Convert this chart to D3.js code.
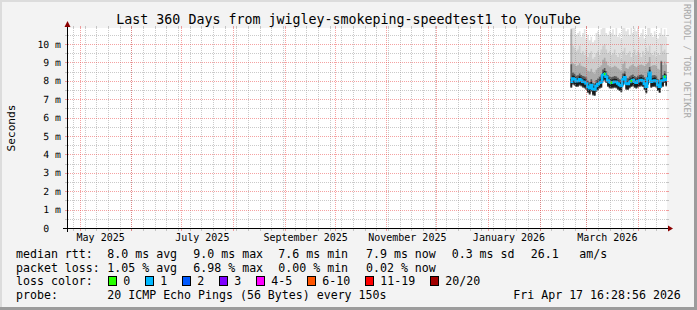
<!DOCTYPE html>
<html><head><meta charset="utf-8">
<script src="https://cdn.jsdelivr.net/npm/d3@7"></script>
<style>html,body{margin:0;padding:0;background:#f3f3f3;}svg{display:block;}text{-webkit-font-smoothing:antialiased;}</style>
</head><body>
<svg id="c" width="697" height="310"></svg>
<script>
// ---------------- data ----------------
const title = "Last 360 Days from jwigley-smokeping-speedtest1 to YouTube";
const xDomain = ["2025-04-23T09:45:00Z", "2026-04-18T09:45:00Z"];
const yMax = 10.87;
const yTicks = [0,1,2,3,4,5,6,7,8,9,10];
const yTickLabels = ["0\u00a0\u00a0","1 m","2 m","3 m","4 m","5 m","6 m","7 m","8 m","9 m","10 m"];
const xLabelMonths = ["2025-05-01","2025-07-01","2025-09-01","2025-11-01","2026-01-01","2026-03-01"];
const xLabels = ["May 2025","July 2025","September 2025","November 2025","January 2026","March 2026"];
const dates = ["02-19","02-20","02-21","02-22","02-23","02-24","02-25","02-26","02-27","02-28",
  "03-01","03-02","03-03","03-04","03-05","03-06","03-07","03-08","03-09","03-10",
  "03-11","03-12","03-13","03-14","03-15","03-16","03-17","03-18","03-19","03-20",
  "03-21","03-22","03-23","03-24","03-25","03-26","03-27","03-28","03-29","03-30",
  "03-31","04-01","04-02","04-03","04-04","04-05","04-06","04-07","04-08","04-09",
  "04-10","04-11","04-12","04-13","04-14","04-15","04-16","04-17"];
const median = [7.95,8.13,8.08,7.97,7.99,8.08,8.01,7.95,7.93,7.86,
  7.68,7.59,7.77,7.56,7.53,7.72,7.81,7.90,7.95,8.32,
  8.37,8.22,8.01,7.93,7.90,7.92,7.95,7.93,7.86,7.77,
  7.72,8.08,8.19,7.86,7.83,7.93,7.99,8.04,7.95,7.90,
  7.97,8.01,8.04,7.99,7.83,7.68,8.13,8.44,7.95,7.99,
  8.01,7.97,7.77,7.68,7.99,8.01,8.22,8.04];
const lossCount = [1,1,1,1,1,1,1,1,1,1, 1,1,1,1,1,1,1,1,1,1, 0,1,1,1,0,1,1,1,1,1,
  1,1,1,1,1,1,0,1,1,1, 1,1,1,1,1,1,1,1,1,1, 1,1,1,1,1,1,0,1];
const smokeLow = [7.62,7.80,7.75,7.66,7.68,7.74,7.70,7.64,7.60,7.52,
  7.35,7.25,7.42,7.22,7.18,7.40,7.48,7.58,7.62,7.98,
  8.02,7.88,7.68,7.60,7.58,7.60,7.62,7.60,7.52,7.44,
  7.38,7.74,7.85,7.52,7.50,7.60,7.66,7.70,7.62,7.58,
  7.64,7.68,7.70,7.66,7.50,7.32,7.78,8.08,7.62,7.66,
  7.68,7.64,7.44,7.34,7.64,7.68,7.88,7.70];
const smokeDark = [8.90,8.45,8.38,8.28,8.30,8.40,8.32,8.26,8.24,8.18,
  8.00,7.92,8.08,7.88,7.85,8.04,8.12,8.22,8.30,8.62,
  8.70,8.52,8.32,8.24,8.20,8.22,8.26,8.24,8.16,8.08,
  8.04,8.40,8.50,8.16,8.14,8.24,8.30,8.34,8.26,8.20,
  8.28,8.32,8.34,8.30,8.20,8.10,8.44,8.75,8.26,8.30,
  8.32,8.28,8.08,8.00,9.05,8.32,8.52,8.34];
const smokeMid = [10.80,8.95,8.90,8.80,8.85,8.95,8.82,8.78,8.75,8.70,
  8.55,8.50,8.65,8.45,8.40,8.60,8.70,8.75,8.85,9.15,
  9.25,9.05,8.85,8.78,8.72,8.75,8.82,8.76,8.68,8.62,
  8.55,8.92,9.05,8.70,8.66,8.78,8.84,8.90,8.80,8.74,
  8.82,8.86,8.88,8.84,8.80,8.90,9.00,9.30,8.80,8.84,
  8.86,8.82,8.66,8.60,9.10,8.86,9.05,8.88];
const smokeHigh = [10.6,9.9,9.8,9.6,9.7,9.9,9.5,9.6,9.4,9.7,
  9.3,9.5,9.6,9.2,9.3,9.5,9.6,9.4,9.7,9.9,
  10.0,9.7,9.5,9.6,9.4,9.5,9.7,9.4,9.3,9.5,
  9.2,9.6,9.8,9.4,9.5,9.6,9.3,9.5,9.7,9.4,
  9.6,9.5,9.3,9.6,9.4,9.8,9.6,9.9,9.5,9.4,
  9.6,9.3,9.5,9.4,10.0,9.6,9.7,9.5];
const smokeTop = [11.0,11.0,10.9,10.5,10.6,10.7,10.4,10.6,10.8,10.3,
  10.5,10.2,10.4,10.1,10.2,10.6,10.7,10.5,10.8,10.9,
  11.0,10.6,10.5,10.7,10.6,10.8,10.5,10.9,10.4,10.6,
  10.3,10.9,11.0,10.7,10.8,10.5,10.9,10.6,11.0,10.7,
  10.9,10.4,10.6,10.8,10.3,10.5,10.9,11.0,10.6,10.4,
  10.7,10.5,10.3,10.6,10.9,10.5,10.8,10.4];
const lossLabels = ["0","1","2","3","4-5","6-10","11-19","20/20"];
const lossColors = ["#26ff00","#00b8ff","#0059ff","#7e00ff","#ff00ff","#ff5500","#ff0000","#a10000"];
const legendRows = [
  [["median rtt:",16],["8.0 ms avg",107.3],["9.0 ms max",193.3],["7.6 ms min",278.3],["7.9 ms now",366],["0.3 ms sd",451.7],["26.1",530.7],["am/s",579.3]],
  [["packet loss:",16],["1.05 % avg",107.3],["6.98 % max",193.3],["0.00 % min",278.3],["0.02 % now",366]],
  [["loss color:",16]],
  [["probe:",16],["20 ICMP Echo Pings (56 Bytes) every 150s",107.3],["Fri Apr 17 16:28:56 2026",513.3]]
];
const lossBoxX = [108.5,145.5,182.5,219.5,256.5,307.5,365.5,430.5];

// ---------------- drawing ----------------
const W = 697, H = 310;
const X0 = 67, X1 = 667, Y0 = 228, Y1 = 28;
const FONT = "'DejaVu Sans Mono', monospace";
const svg = d3.select("#c");
const MAJOR = "rgba(235,70,70,0.5)", MINOR = "rgba(150,150,150,0.5)";

// dotted-line patterns (1 on / 1 off)
const defs = svg.append("defs");
[["hR",MAJOR,2,1],["hG",MINOR,2,1],["vR",MAJOR,1,2],["vG",MINOR,1,2]].forEach(([id,c,w,h]) => {
  const p = defs.append("pattern").attr("id",id).attr("patternUnits","userSpaceOnUse")
    .attr("x",0).attr("y",0).attr("width",w).attr("height",h);
  p.append("rect").attr("x",0).attr("y",0).attr("width",1).attr("height",1).attr("fill",c);
});

svg.append("rect").attr("width", W).attr("height", H).attr("fill", "#f3f3f3");
// 3D frame
svg.append("rect").attr("x",0).attr("y",0).attr("width",W).attr("height",2).attr("fill","#dcdcdc");
svg.append("rect").attr("x",0).attr("y",0).attr("width",2).attr("height",H).attr("fill","#dcdcdc");
svg.append("rect").attr("x",W-3).attr("y",0).attr("width",3).attr("height",H).attr("fill","#9c9c9c");
svg.append("rect").attr("x",0).attr("y",H-3).attr("width",W).attr("height",3).attr("fill","#9c9c9c");

const x = d3.scaleUtc().domain(xDomain.map(d => new Date(d))).range([X0, X1]);
const y = d3.scaleLinear().domain([0, yMax]).range([Y0, Y1]);

svg.append("rect").attr("x",X0).attr("y",Y1).attr("width",X1-X0).attr("height",Y0-Y1).attr("fill","#ffffff");

svg.append("clipPath").attr("id","plot").append("rect")
  .attr("x",X0).attr("y",Y1).attr("width",X1-X0).attr("height",Y0-Y1);

const rows = dates.map((d,i) => ({
  t: new Date("2026-" + d + "T12:00:00Z"),
  med: median[i], loss: lossCount[i], lo: smokeLow[i],
  dk: smokeDark[i], md: smokeMid[i], hi: smokeHigh[i], top: smokeTop[i]
}));
const last = rows[rows.length-1];
const ext = rows.concat([Object.assign({}, last, {t: x.domain()[1]})]);

const gData = svg.append("g").attr("clip-path","url(#plot)");
const bands = [["top","#e2e2e2"],["hi","#cdcdcd"],["md","#ababab"],["dk","#5a5a5a"]];
bands.forEach(([k,c]) => {
  const area = d3.area().curve(d3.curveStepAfter)
    .x(d => x(d.t)).y0(d => y(d.lo)).y1(d => y(d[k]));
  gData.append("path").attr("d", area(ext)).attr("fill", c);
});
const core = d3.area().curve(d3.curveStepAfter)
  .x(d => x(d.t)).y0(d => y(d.lo) - 1).y1(d => y(d.med) - 3);
gData.append("path").attr("d", core(ext)).attr("fill", "#1a1a1a");
const medLine = d3.line().curve(d3.curveStepAfter).x(d => x(d.t)).y(d => y(d.med));
gData.append("path").attr("d", medLine(ext)).attr("fill","none")
  .attr("stroke", lossColors[1]).attr("stroke-width", 2.5);
ext.forEach((d,i) => {
  if (i < ext.length-1 && d.loss === 0) {
    gData.append("line").attr("x1", x(d.t)).attr("x2", x(ext[i+1].t))
      .attr("y1", y(d.med)).attr("y2", y(d.med))
      .attr("stroke", lossColors[0]).attr("stroke-width", 2.5);
  }
});

// grid (drawn over data as in rrdtool)
const gGrid = svg.append("g").attr("shape-rendering","crispEdges");
const weeks = d3.utcSunday.range(x.domain()[0], x.domain()[1]);
const months = d3.utcMonth.range(x.domain()[0], x.domain()[1]);
function vline(t, major) {
  const px = Math.round(x(t));
  const col = major ? MAJOR : MINOR;
  gGrid.append("rect").attr("x",px).attr("y",Y1).attr("width",1).attr("height",Y0-Y1)
    .attr("fill", `url(#${major ? "vR" : "vG"})`);
  gGrid.append("rect").attr("x",px).attr("y",Y1-2).attr("width",1).attr("height",2).attr("fill",col);
  gGrid.append("rect").attr("x",px).attr("y",Y0+1).attr("width",1).attr("height",2).attr("fill",col);
}
function hline(v, major) {
  const py = Math.round(y(v));
  const col = major ? MAJOR : MINOR;
  gGrid.append("rect").attr("x",X0+1).attr("y",py).attr("width",X1-X0-1).attr("height",1)
    .attr("fill", `url(#${major ? "hR" : "hG"})`);
  gGrid.append("rect").attr("x",X0-2).attr("y",py).attr("width",2).attr("height",1).attr("fill",col);
  gGrid.append("rect").attr("x",X1).attr("y",py).attr("width",2).attr("height",1).attr("fill",col);
}
weeks.forEach(t => vline(t, false));
d3.range(0.5, yMax, 1).forEach(v => hline(v, false));
months.forEach(t => vline(t, true));
yTicks.filter(v => v > 0).forEach(v => hline(v, true));

// axes
const gAx = svg.append("g").attr("shape-rendering","crispEdges");
gAx.append("rect").attr("x",X0-4).attr("y",Y0).attr("width",X1-X0+6).attr("height",1).attr("fill","#000");
gAx.append("rect").attr("x",X0).attr("y",Y1-2).attr("width",1).attr("height",Y0-Y1+6).attr("fill","#000");
svg.append("path").attr("d", `M${X1+1},${Y0-2.5} L${X1+6},${Y0+0.5} L${X1+1},${Y0+3.5} Z`).attr("fill","#8b0000");
svg.append("path").attr("d", `M${X0-2.5},${Y1-1} L${X0+0.5},${Y1-7} L${X0+3.5},${Y1-1} Z`).attr("fill","#8b0000");

// y labels
svg.append("g").selectAll("text").data(yTicks).join("text")
  .attr("x", 61).attr("y", d => y(d) + 3.5).attr("text-anchor","end")
  .attr("font-family", FONT).attr("font-size", 9.8).attr("fill","#000")
  .attr("text-rendering","geometricPrecision")
  .style("white-space","pre").text((d,i) => yTickLabels[i]);

// x labels
svg.append("g").selectAll("text").data(xLabelMonths).join("text")
  .attr("x", d => x(new Date(d + "T00:00:00Z")) + 21).attr("y", 241).attr("text-anchor","middle")
  .attr("font-family", FONT).attr("font-size", 10).attr("fill","#000")
  .text((d,i) => xLabels[i]);

// title
svg.append("text").attr("x", 348.5).attr("y", 24).attr("text-anchor","middle")
  .attr("font-family", FONT).attr("font-size", 13.3).attr("fill","#000").text(title);

// y axis title
svg.append("text").attr("transform","translate(15,128) rotate(-90)").attr("text-anchor","middle")
  .attr("font-family", FONT).attr("font-size", 11.2).attr("fill","#000").text("Seconds");

// watermark
svg.append("text").attr("transform","translate(684,4) rotate(90)").attr("text-anchor","start")
  .attr("font-family", FONT).attr("font-size", 8.6).attr("fill","#a8a8a8").text("RRDTOOL / TOBI OETIKER");

// legend
const baselines = [258, 271.7, 285.4, 299.1];
const gLeg = svg.append("g").attr("font-family", FONT).attr("font-size", 11.6).attr("fill","#000");
legendRows.forEach((row, r) => {
  row.forEach(([txt, px]) => {
    gLeg.append("text").attr("x", px).attr("y", baselines[r]).style("white-space","pre").text(txt);
  });
});
lossLabels.forEach((lab, i) => {
  svg.append("rect").attr("x", lossBoxX[i]).attr("y", 276.5).attr("width", 8).attr("height", 9)
    .attr("fill", lossColors[i]).attr("stroke","#000").attr("stroke-width",1);
  gLeg.append("text").attr("x", lossBoxX[i] + 14.8).attr("y", baselines[2]).text(lab);
});
</script>
</body></html>
